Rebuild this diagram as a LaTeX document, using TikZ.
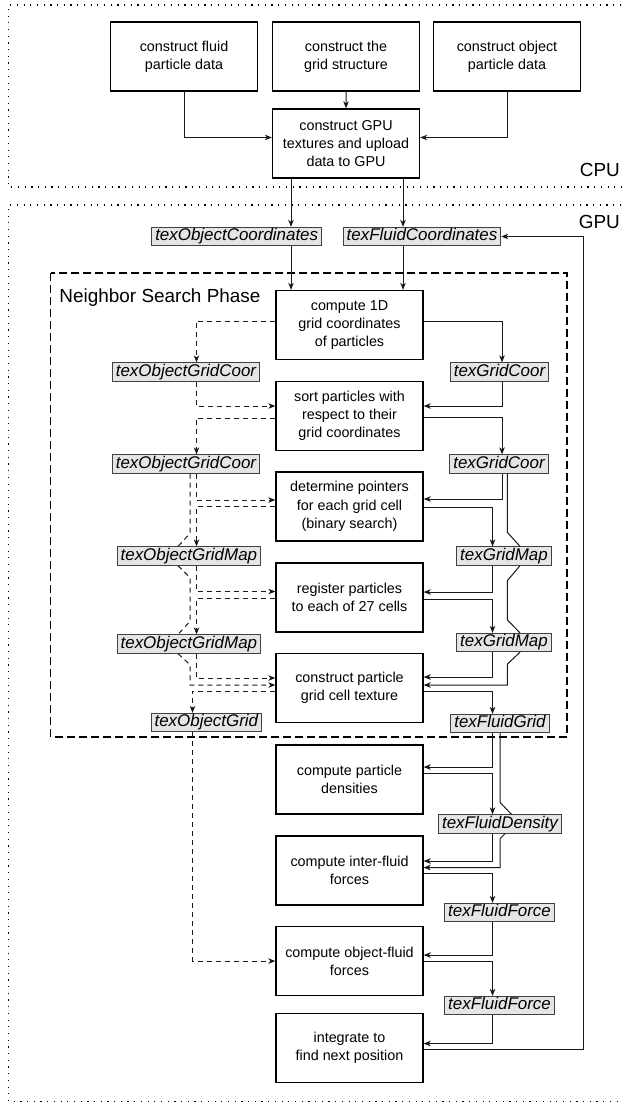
\documentclass[tikz,border=0pt]{standalone}
\usepackage{fontspec}
\setmainfont{Liberation Sans}
\usetikzlibrary{arrows.meta,calc,positioning}

\begin{document}
\begin{tikzpicture}[scale=0.3528]
\tikzstyle{every node}+=[inner sep=0pt]
\tikzstyle{flowbox}=[draw=black, line width=1.3bp, fill=white, minimum width=147bp, minimum height=69bp, align=center, font=\fontsize{14.4}{18.3}\selectfont]
\tikzstyle{texbox}=[draw=black!75, line width=0.8bp, fill=black!10, inner xsep=3.5bp, minimum height=18.5bp, text height=12.5bp, text depth=3.8bp, font=\fontsize{17}{20}\selectfont\itshape]
\tikzstyle{conn}=[-{Stealth[length=7bp,width=5.5bp,inset=2bp]}, line width=1bp, black!90]
\tikzstyle{objconn}=[conn, dash pattern=on 5bp off 4bp]
\tikzstyle{unitframe}=[black, line width=1.2bp, dash pattern=on 1.2bp off 5.5bp]
\tikzstyle{phaselabel}=[font=\fontsize{19}{22}\selectfont]
\useasboundingbox (0,0) rectangle (62.1,-110.3);
% CPU and GPU areas
\draw[unitframe] (62.1,-0.5) -- (0.85,-0.5) -- (0.85,-18.7) -- (62.1,-18.7);
\draw[unitframe] (62.1,-20.5) -- (0.85,-20.5) -- (0.85,-110.15) -- (62.1,-110.15);
\node[phaselabel, anchor=east] (cpu) at (62.0,-17.0) {CPU};
\node[phaselabel, anchor=east] (gpulbl) at (62.0,-22.2) {GPU};
\draw[black, line width=1.1bp, dash pattern=on 8bp off 4bp] (5.07,-27.3) rectangle (56.7,-73.7);
\node[phaselabel, anchor=west] (nsp) at (5.93,-29.8) {Neighbor Search Phase};
% CPU boxes
\node[flowbox] (fluiddata) at (18.4,-5.65) {construct fluid\\particle data};
\node[flowbox] (gridstruct) at (34.6,-5.65) {construct the\\grid structure};
\node[flowbox] (objdata) at (50.7,-5.65) {construct object\\particle data};
\node[flowbox] (gpu) at (34.6,-14.35) {construct GPU\\textures and upload\\data to GPU};
% GPU boxes
\node[flowbox] (cgrid) at (34.95,-32.5) {compute 1D\\grid coordinates\\of particles};
\node[flowbox] (sortp) at (34.95,-41.6) {sort particles with\\respect to their\\grid coordinates};
\node[flowbox] (pointers) at (34.95,-50.65) {determine pointers\\for each grid cell\\(binary search)};
\node[flowbox] (register) at (34.95,-59.75) {register particles\\to each of 27 cells};
\node[flowbox] (cellgrid) at (34.95,-68.8) {construct particle\\grid cell texture};
\node[flowbox] (dens) at (34.95,-77.95) {compute particle\\densities};
\node[flowbox] (inter) at (34.95,-87.05) {compute inter-fluid\\forces};
\node[flowbox] (objfluid) at (34.95,-96.1) {compute object-fluid\\forces};
\node[flowbox] (integ) at (34.95,-104.8) {integrate to\\find next position};
% textures
\node[texbox] (objcoord) at (23.67,-23.65) {texObjectCoordinates};
\node[texbox] (fluidcoord) at (42.2,-23.65) {texFluidCoordinates};
\node[texbox] (gc1) at (49.95,-37.2) {texGridCoor};
\node[texbox] (gc2) at (49.9,-46.4) {texGridCoor};
\node[texbox] (gm1) at (50.4,-55.6) {texGridMap};
\node[texbox] (gm2) at (50.4,-64.25) {texGridMap};
\node[texbox] (fgrid) at (50.0,-72.35) {texFluidGrid};
\node[texbox] (fdens) at (50.0,-82.4) {texFluidDensity};
\node[texbox] (fforce1) at (49.95,-91.25) {texFluidForce};
\node[texbox] (fforce2) at (49.95,-100.55) {texFluidForce};
\node[texbox, anchor=east] (ogc1) at (26.0,-37.2) {texObjectGridCoor};
\node[texbox, anchor=east] (ogc2) at (26.0,-46.4) {texObjectGridCoor};
\node[texbox, anchor=east] (ogm1) at (26.1,-55.6) {texObjectGridMap};
\node[texbox, anchor=east] (ogm2) at (26.1,-64.4) {texObjectGridMap};
\node[texbox, anchor=east] (ogrid) at (26.2,-72.25) {texObjectGrid};
% columns of the connectors
\coordinate (cL) at (29.1,0);
\coordinate (cR) at (40.3,0);
\coordinate (rA) at (50.2,0);
\coordinate (rM) at (49.25,0);
\coordinate (rC) at (50.73,0);
\coordinate (rCj) at (52.0,0);
\coordinate (rD) at (50.0,0);
\coordinate (rDj) at (51.15,0);
\coordinate (rDk) at (50.5,0);
\coordinate (rF) at (58.3,0);
\coordinate (lA) at (19.65,0);
\coordinate (lB) at (19.0,0);
\coordinate (lBj) at (17.8,0);
\coordinate (lC) at (19.25,0);
% CPU side
\draw[conn] (fluiddata.south) |- ($(gpu.west)+(0,0.6)$);
\draw[conn] (objdata.south) |- ($(gpu.east)+(0,0.6)$);
\draw[conn] (gridstruct) -- (gpu);
\draw[conn] (gpu.south -| cL) -- (objcoord.north -| cL);
\draw[conn] (gpu.south -| cR) -- (fluidcoord.north -| cR);
\draw[conn] (objcoord.south -| cL) -- (cgrid.north -| cL);
\draw[conn] (fluidcoord.south -| cR) -- (cgrid.north -| cR);
% fluid textures
\draw[conn] ($(cgrid.east)+(0,0.4)$) -| (gc1.north -| rA);
\draw[conn] (gc1.south -| rA) |- ($(sortp.east)+(0,1.0)$);
\draw[conn] ($(sortp.east)+(0,-0.15)$) -| (gc2.north -| rA);
\draw[conn] (gc2.south -| rA) |- ($(pointers.east)+(0,0.75)$);
\draw[conn] (gc2.south -| rC) -- ($(gm1.north -| rC)+(0,1.4)$) -- (gm1.north -| rCj)
  (gm1.south -| rCj) -- ($(gm1.south -| rC)+(0,-1.5)$) -- ($(gm2.north -| rC)+(0,1.3)$) -- (gm2.north -| rCj)
  (gm2.south -| rCj) -- ($(gm2.south -| rC)+(0,-1.2)$) |- ($(cellgrid.east)+(0,0.3)$);
\draw[conn] ($(pointers.east)+(0,-0.1)$) -| (gm1.north -| rM);
\draw[conn] (gm1.south -| rM) |- ($(register.east)+(0,0.55)$);
\draw[conn] ($(register.east)+(0,-0.15)$) -| (gm2.north -| rM);
\draw[conn] (gm2.south -| rM) |- ($(cellgrid.east)+(0,1.1)$);
\draw[conn] ($(cellgrid.east)+(0,-0.35)$) -| (fgrid.north -| rM);
\draw[conn] (fgrid.south -| rM) |- ($(dens.east)+(0,1.25)$);
\draw[conn] (fgrid.south -| rD) -- ($(fdens.north -| rD)+(0,1.2)$) -- (fdens.north -| rDj)
  (fdens.south -| rDk) -- ($(fdens.south -| rD)+(0,-0.5)$) |- ($(inter.east)+(0,0.3)$);
\draw[conn] ($(dens.east)+(0,0.6)$) -| (fdens.north -| rM);
\draw[conn] (fdens.south -| rM) |- ($(inter.east)+(0,0.95)$);
\draw[conn] ($(inter.east)+(0,-0.25)$) -| (fforce1.north -| rM);
\draw[conn] (fforce1.south -| rM) |- ($(objfluid.east)+(0,0.6)$);
\draw[conn] (objfluid.east) -| (fforce2.north -| rM);
\draw[conn] (fforce2.south -| rM) |- ($(integ.east)+(0,0.45)$);
\draw[conn] ($(integ.east)+(0,-0.15)$) -| (rF |- fluidcoord.east) -- (fluidcoord.east);
% object textures
\draw[objconn] ($(cgrid.west)+(0,0.4)$) -| (ogc1.north -| lA);
\draw[objconn] (ogc1.south -| lA) |- ($(sortp.west)+(0,1.0)$);
\draw[objconn] ($(sortp.west)+(0,-0.2)$) -| (ogc2.north -| lA);
\draw[objconn] (ogc2.south -| lA) |- ($(pointers.west)+(0,0.65)$);
\draw[objconn] (pointers.west) -| (ogm1.north -| lA);
\draw[objconn] (ogm1.south -| lA) |- ($(register.west)+(0,0.6)$);
\draw[objconn] ($(register.west)+(0,-0.1)$) -| (ogm2.north -| lA);
\draw[objconn] (ogm2.south -| lA) |- ($(cellgrid.west)+(0,1.0)$);
\draw[objconn] (ogc2.south -| lB) -- ($(ogm1.north -| lB)+(0,1.3)$) -- (ogm1.north -| lBj)
  (ogm1.south -| lBj) -- ($(ogm1.south -| lB)+(0,-1.2)$) -- ($(ogm2.north -| lB)+(0,1.3)$) -- (ogm2.north -| lBj)
  (ogm2.south -| lBj) -- ($(ogm2.south -| lB)+(0,-1.1)$) |- ($(cellgrid.west)+(0,0.3)$);
\draw[objconn] ($(cellgrid.west)+(0,-0.3)$) -| (ogrid.north -| lC);
\draw[objconn] (ogrid.south -| lC) |- (objfluid.west);
\end{tikzpicture}
\end{document}
